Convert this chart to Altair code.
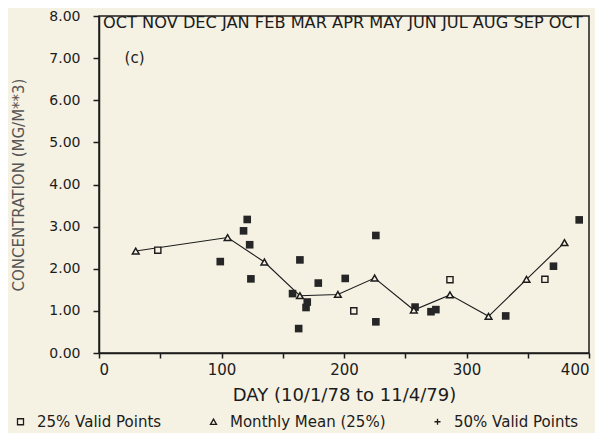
import altair as alt
import pandas as pd

# Monthly means (25%)
mean_day = [30, 105, 135, 164, 195, 225, 257, 286.5, 318, 349, 380]
mean_val = [2.42, 2.74, 2.16, 1.36, 1.39, 1.78, 1.02, 1.38, 0.87, 1.75, 2.62]

# 25% valid points (open squares)
p25_day = [48, 208, 286.5, 364]
p25_val = [2.44, 1.00, 1.74, 1.75]

# 50% valid points (filled)
p50_day = [99, 118, 121, 123, 124, 158, 163, 164, 169, 170, 179, 201,
           226, 226, 258, 271, 275, 332, 371, 392]
p50_val = [2.17, 2.90, 3.17, 2.57, 1.76, 1.41, 0.58, 2.21, 1.08, 1.21, 1.66, 1.77,
           2.79, 0.74, 1.09, 0.98, 1.03, 0.88, 2.06, 3.16]

months = ["OCT", "NOV", "DEC", "JAN", "FEB", "MAR", "APR", "MAY", "JUN",
          "JUL", "AUG", "SEP", "OCT"]
legend_labels = ["25% Valid Points", "Monthly Mean (25%)", "50% Valid Points"]
legend_shapes = ["square", "triangle-up", "M-1,0H1M0,-1V1"]

y_ticks = [0, 1, 2, 3, 4, 5, 6, 7, 8]
x_ticks = [0, 50, 100, 150, 200, 250, 300, 350, 400]

FONT = "DejaVu Sans"
INK = "#1c1c1c"
PAPER = "#f5f1e3"

means = pd.DataFrame({"day": mean_day, "val": mean_val})
p25 = pd.DataFrame({"day": p25_day, "val": p25_val})
p50 = pd.DataFrame({"day": p50_day, "val": p50_val})
month_df = pd.DataFrame({"day": [3.3], "val": [7.83], "txt": [" ".join(months)]})
panel_df = pd.DataFrame({"day": [29], "val": [7.0], "txt": ["(c)"]})
leg_df = pd.DataFrame({"series": legend_labels, "day": [0, 0, 0], "val": [-5, -5, -5]})

x = alt.X("day:Q", scale=alt.Scale(domain=[0, 400], nice=False, zero=False),
          axis=alt.Axis(values=x_ticks, format="d",
                        labelExpr="datum.value % 100 == 0 ? datum.label : ''",
                        title="DAY (10/1/78 to 11/4/79)"))
y = alt.Y("val:Q", scale=alt.Scale(domain=[0, 8], nice=False, zero=False),
          axis=alt.Axis(values=y_ticks, format=".2f",
                        title="CONCENTRATION (MG/M**3)"))

line = alt.Chart(means).mark_line(color=INK, strokeWidth=1.1).encode(x=x, y=y)
tri = alt.Chart(means).mark_point(shape="triangle-up", size=45, filled=False,
                                  fill=PAPER, stroke=INK, strokeWidth=1.5,
                                  opacity=1).encode(x=x, y=y)
sq = alt.Chart(p25).mark_point(shape="square", size=38, fill=PAPER,
                               stroke=INK, strokeWidth=1.4, opacity=1).encode(x=x, y=y)
dots = alt.Chart(p50).mark_point(shape="square", size=58, filled=True,
                                 color="#262626", opacity=1).encode(x=x, y=y)
mtext = alt.Chart(month_df).mark_text(align="left", baseline="middle", font=FONT,
                                      fontSize=16.2, color=INK).encode(x=x, y=y, text="txt:N")
ptext = alt.Chart(panel_df).mark_text(align="center", baseline="middle", font=FONT,
                                      fontSize=15, color=INK).encode(x=x, y=y, text="txt:N")
leg = alt.Chart(leg_df).mark_point(filled=False, clip=True, size=30, stroke=INK,
                                   strokeWidth=1.2, opacity=1).encode(
    x=x, y=y,
    shape=alt.Shape("series:N",
                    scale=alt.Scale(domain=legend_labels, range=legend_shapes),
                    legend=alt.Legend(title=None, orient="none", direction="horizontal",
                                      legendX=-86, legendY=398,
                                      labelFont=FONT, labelFontSize=15, labelColor=INK,
                                      symbolSize=36, symbolStrokeColor=INK,
                                      symbolStrokeWidth=1.3, symbolFillColor="transparent",
                                      labelOffset=9, columnPadding=44, padding=0)))

chart = alt.layer(line, sq, dots, tri, mtext, ptext, leg).properties(
    width=490, height=337,
    autosize=alt.AutoSizeParams(type="none"),
    padding={"left": 91, "top": 8, "right": 6, "bottom": 80},
    background=PAPER,
).configure_view(stroke=INK, strokeWidth=1.5).configure_axis(
    grid=False, domainColor=INK, domainWidth=1.5, tickColor=INK, tickWidth=1.5,
    labelFont=FONT, titleFont=FONT, labelColor=INK, titleFontWeight="normal",
).configure_axisY(
    tickSize=6, labelPadding=13, labelFontSize=14, titleFontSize=15,
    titleColor="#555555", titlePadding=22,
).configure_axisX(
    tickSize=5, labelPadding=4, labelFontSize=15, titleFontSize=18,
    titleColor=INK, titlePadding=9,
)

chart.save("out.html", embed_options={"renderer": "svg", "actions": False})
